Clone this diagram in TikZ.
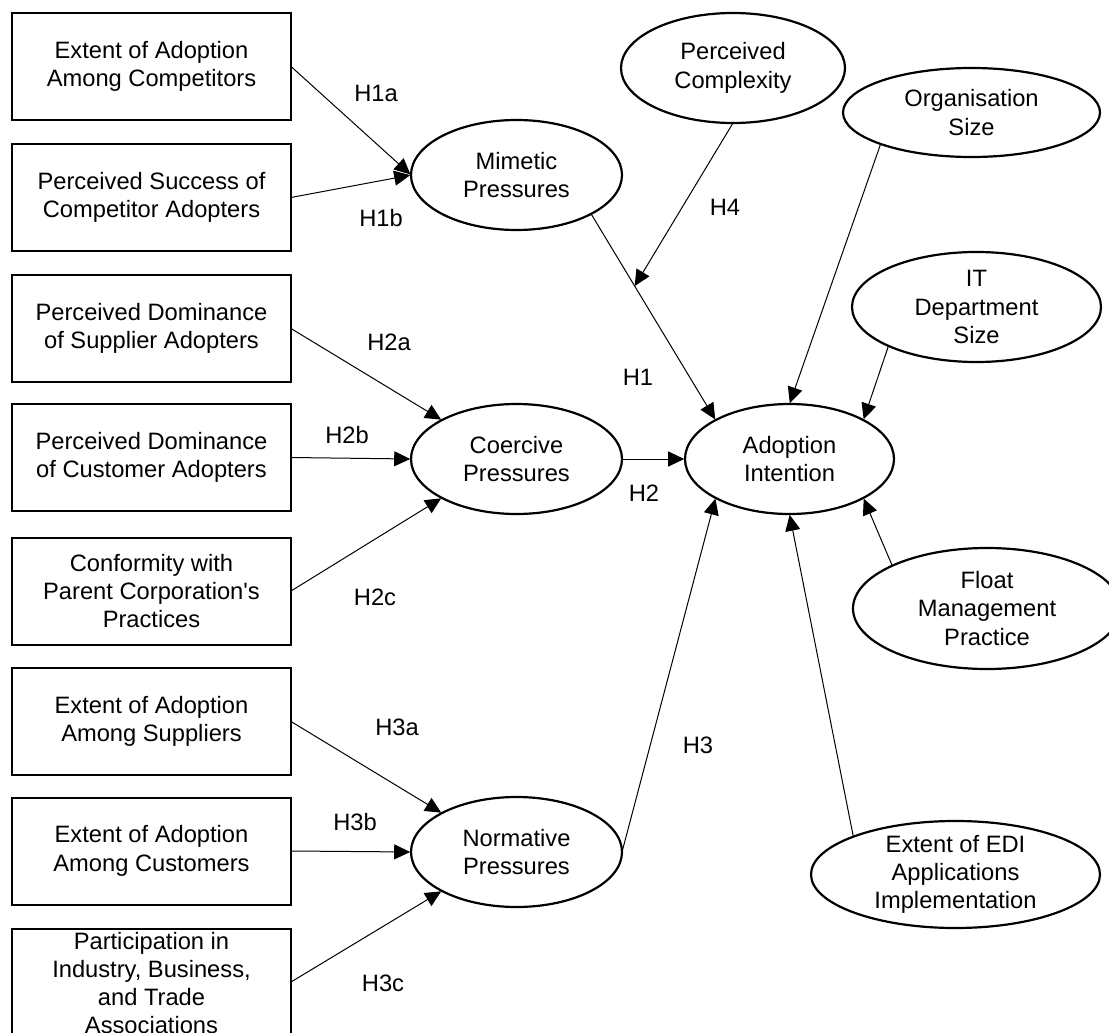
\documentclass[tikz,border=0pt]{standalone}
\usepackage{fontspec}
\setmainfont{Liberation Sans}
\usetikzlibrary{arrows.meta,calc,shapes.geometric}
\begin{document}
\begin{tikzpicture}[x=1pt,y=-1pt,
 box/.style={draw, line width=2pt, rectangle, minimum width=279pt, minimum height=107pt, inner sep=0pt, outer sep=0pt},
 ell/.style={draw, line width=2.2pt, ellipse, inner sep=0pt, outer sep=0pt},
 txt/.style={align=center, font=\fontsize{23.7}{28.3}\selectfont, inner sep=0pt},
 lab/.style={font=\fontsize{23.7}{28.3}\selectfont, inner sep=0pt},
 arr/.style={line width=1pt, shorten >=0.8pt, -{Triangle[length=16pt,width=15pt]}}]
\useasboundingbox (0,0) rectangle (1109,1033);
\clip (0,0) rectangle (1109,1033);
% left boxes
\node[box] (b1) at (151.5,66.5) {};
\node[box] (b2) at (151.5,197.5) {};
\node[box] (b3) at (151.5,328.5) {};
\node[box] (b4) at (151.5,457.5) {};
\node[box] (b5) at (151.5,591) {};
\node[box] (b6) at (151.5,721.5) {};
\node[box] (b7) at (151.5,851) {};
\node[box] (b8) at (151.5,982) {};
\node[txt] (b1t) at (b1) {Extent of Adoption\\Among Competitors};
\node[txt] (b2t) at (b2) {Perceived Success of\\Competitor Adopters};
\node[txt] (b3t) at (b3) {Perceived Dominance\\of Supplier Adopters};
\node[txt] (b4t) at (b4) {Perceived Dominance\\of Customer Adopters};
\node[txt] (b5t) at (b5) {Conformity with\\Parent Corporation\textquotesingle s\\Practices};
\node[txt] (b6t) at (b6) {Extent of Adoption\\Among Suppliers};
\node[txt] (b7t) at (b7) {Extent of Adoption\\Among Customers};
\node[txt] (b8t) at (151.5,983) {Participation in\\Industry, Business,\\and Trade\\Associations};
% ellipses
\node[ell, minimum width=211pt, minimum height=110pt] (mim) at (516.5,175) {};
\node[ell, minimum width=211pt, minimum height=110pt] (coe) at (516.5,459) {};
\node[ell, minimum width=211pt, minimum height=110pt] (nor) at (516.5,852) {};
\node[ell, minimum width=224pt, minimum height=110pt] (pc) at (733,68) {};
\node[ell, minimum width=257pt, minimum height=89pt] (org) at (971.5,112.5) {};
\node[ell, minimum width=249pt, minimum height=110pt] (it) at (976.5,307) {};
\node[ell, minimum width=209pt, minimum height=110pt] (ai) at (789.5,459) {};
\node[ell, minimum width=268pt, minimum height=121pt] (fm) at (987,608.5) {};
\node[ell, minimum width=289pt, minimum height=107pt] (edi) at (955.5,874.5) {};
\node[txt] (mimt) at (mim) {Mimetic\\Pressures};
\node[txt] (coet) at (coe) {Coercive\\Pressures};
\node[txt] (nort) at (nor) {Normative\\Pressures};
\node[txt] (pct) at (pc) {Perceived\\Complexity};
\node[txt] (orgt) at (org) {Organisation\\Size};
\node[txt] (itt) at (it) {IT\\Department\\Size};
\node[txt] (ait) at (ai) {Adoption\\Intention};
\node[txt] (fmt) at (fm) {Float\\Management\\Practice};
\node[txt] (edit) at (edi) {Extent of EDI\\Applications\\Implementation};
% connectors
\draw[arr] (b1.east) -- (mim.west);
\draw[arr] (b2.east) -- (mim.west);
\draw[arr] (b3.east) -- (coe.north west);
\draw[arr] (b4.east) -- (coe.west);
\draw[arr] (b5.east) -- (coe.south west);
\draw[arr] (b6.east) -- (nor.north west);
\draw[arr] (b7.east) -- (nor.west);
\draw[arr] (b8.east) -- (nor.south west);
\draw[arr] (mim.south east) -- (ai.north west);
\coordinate (h4t) at ($(mim.south east)!0.35!(ai.north west)$);
\draw[arr, shorten >=0pt] (pc.south) -- (h4t);
\draw[arr] (coe.east) -- (ai.west);
\draw[arr] (nor.east) -- (ai.south west);
\draw[arr] (org.south west) -- (ai.north);
\draw[arr] (it.south west) -- (ai.north east);
\draw[arr] (fm.north west) -- (ai.south east);
\draw[arr] (edi.north west) -- (ai.south);
% labels
\node[lab] (l1a) at (376,93) {H1a};
\node[lab] (l1b) at (381,218) {H1b};
\node[lab] (l2a) at (389,342) {H2a};
\node[lab] (l2b) at (347,435) {H2b};
\node[lab] (l2c) at (375,597) {H2c};
\node[lab] (l3a) at (397,727) {H3a};
\node[lab] (l3b) at (355,822) {H3b};
\node[lab] (l3c) at (383,983) {H3c};
\node[lab] (l1) at (638,377) {H1};
\node[lab] (l2) at (644,493) {H2};
\node[lab] (l3) at (698,745) {H3};
\node[lab] (l4) at (725,207) {H4};
\end{tikzpicture}
\end{document}
